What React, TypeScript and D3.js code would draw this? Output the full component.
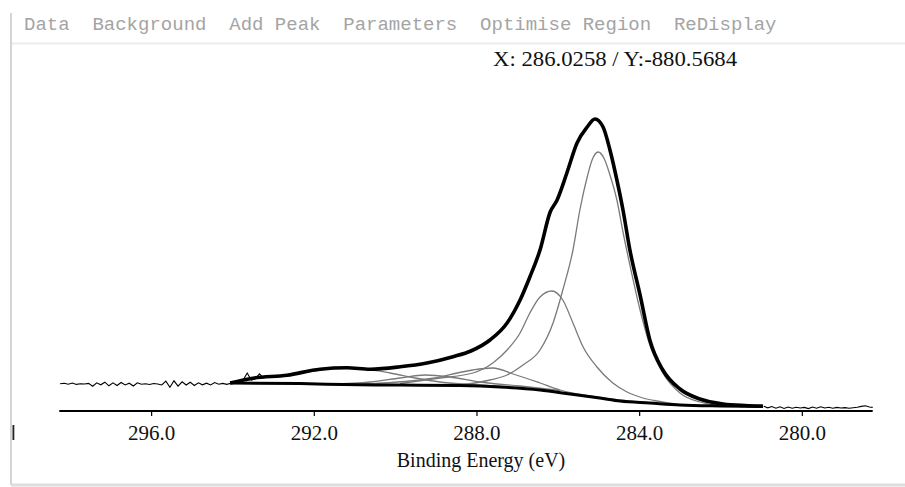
import { useMemo } from "react";
import * as d3 from "d3";

const W = 905;
const H = 487;

// binding energy window shown on the axis (eV, high -> low)
const beDomain: [number, number] = [298.27, 278.27];
const tickValues = [296, 292, 288, 284, 280];

const menuItems = ["Data", "Background", "Add Peak", "Parameters", "Optimise Region", "ReDisplay"];
const cursorReadout = "X: 286.0258 / Y:-880.5684";
const xTitle = "Binding Energy (eV)";

type Pt = [number, number]; // [binding energy, counts]

// raw spectrum, high-BE side (outside the fit region)
const rawHigh: Pt[] = [
  [298.25, 272], [298.15, 278], [298.05, 268], [297.95, 280], [297.85, 266],
  [297.75, 272], [297.65, 270], [297.55, 276], [297.45, 248], [297.35, 282],
  [297.25, 262], [297.15, 288], [297.05, 252], [296.95, 282], [296.85, 255],
  [296.75, 285], [296.65, 260], [296.55, 278], [296.45, 250], [296.35, 282],
  [296.25, 268], [296.15, 272], [296.05, 265], [295.95, 275], [295.85, 270],
  [295.75, 260], [295.65, 298], [295.55, 238], [295.45, 302], [295.35, 248],
  [295.25, 292], [295.15, 260], [295.05, 288], [294.95, 255], [294.85, 282],
  [294.75, 262], [294.65, 278], [294.55, 260], [294.45, 285], [294.35, 268],
  [294.25, 276], [294.15, 266], [294.05, 278], [293.95, 290], [293.85, 298],
  [293.75, 310], [293.65, 380], [293.55, 310], [293.45, 322], [293.35, 372],
  [293.25, 330], [293.15, 340],
];

// raw spectrum, low-BE side
const rawLow: Pt[] = [
  [280.95, 48], [280.85, 32], [280.75, 45], [280.65, 28], [280.55, 42],
  [280.45, 26], [280.35, 40], [280.25, 28], [280.15, 38], [280.05, 30],
  [279.95, 36], [279.85, 24], [279.75, 40], [279.65, 28], [279.55, 42],
  [279.45, 30], [279.35, 38], [279.25, 28], [279.15, 36], [279.05, 30],
  [278.95, 34], [278.85, 28], [278.75, 33], [278.65, 38], [278.55, 46],
  [278.45, 52], [278.35, 40], [278.27, 36],
];

// fitted envelope over the region
const envelope: Pt[] = [
  [294.07, 280], [293.51, 328], [292.67, 358], [291.86, 418], [291.2, 432],
  [290.63, 418], [289.89, 442], [289.23, 480], [288.59, 543], [288.15, 600],
  [287.68, 710], [287.26, 880], [286.94, 1110], [286.7, 1340], [286.45, 1610],
  [286.2, 1990], [286.03, 2110], [285.79, 2380], [285.54, 2680], [285.29, 2840],
  [285.1, 2920], [284.9, 2840], [284.73, 2610], [284.56, 2310], [284.41, 2010],
  [284.24, 1610], [283.99, 1160], [283.75, 710], [283.43, 410], [283.01, 220],
  [282.52, 120], [281.95, 70], [281.41, 55], [280.97, 50],
];

// Shirley background
const background: Pt[] = [
  [294.07, 280], [292.35, 274], [290.88, 262], [289.89, 259], [288.42, 254],
  [287.43, 240], [286.45, 210], [285.71, 170], [284.98, 130], [284.48, 100],
  [283.75, 80], [283.01, 60], [282.02, 50], [280.97, 45],
];

// component peaks, drawn on top of the background
const peakC1: Pt[] = [
  [288.66, 250], [287.68, 310], [287.26, 360], [286.87, 460], [286.45, 610],
  [286.13, 880], [285.89, 1210], [285.64, 1610], [285.47, 2010], [285.29, 2340],
  [285.17, 2510], [285.02, 2590], [284.88, 2530], [284.73, 2360], [284.56, 2110],
  [284.41, 1790], [284.24, 1460], [283.99, 1010], [283.75, 660], [283.43, 380],
  [283.01, 180], [282.52, 90], [282.02, 55],
];
const peakC2: Pt[] = [
  [289.89, 275], [288.91, 330], [288.1, 380], [287.61, 480], [287.26, 610],
  [286.94, 780], [286.7, 980], [286.45, 1140], [286.16, 1200], [285.89, 1110],
  [285.64, 880], [285.39, 640], [285.05, 440], [284.66, 280], [284.31, 190],
  [283.92, 130], [283.5, 95], [283.01, 62],
];
const peakC3: Pt[] = [
  [290.88, 268], [289.65, 300], [288.91, 340], [288.49, 380], [288.1, 410],
  [287.61, 430], [287.11, 370], [286.45, 280], [285.96, 210], [285.22, 150],
  [284.48, 108], [283.75, 80],
];
const peakC4: Pt[] = [
  [291.61, 268], [290.63, 290], [289.89, 330], [289.28, 360], [288.66, 340],
  [287.93, 290], [286.94, 250], [285.96, 205],
];
const peakC5: Pt[] = [
  [294.07, 280], [293.51, 326], [292.67, 356], [291.86, 410], [291.25, 428],
  [290.75, 418], [290.14, 380], [289.52, 330], [288.91, 290], [288.17, 265],
  [287.17, 240],
];

const peaks = [peakC1, peakC2, peakC3, peakC4, peakC5];

export default function App() {
  const x = useMemo(() => d3.scaleLinear().domain(beDomain).range([59.3, 872.7]), []);
  const y = useMemo(() => d3.scaleLinear().domain([0, 3000]).range([411, 111]), []);

  const smooth = d3
    .line<Pt>()
    .x((d) => x(d[0]))
    .y((d) => y(d[1]))
    .curve(d3.curveMonotoneX);
  const jagged = d3
    .line<Pt>()
    .x((d) => x(d[0]))
    .y((d) => y(d[1]));

  const serif = "'Liberation Serif', 'Times New Roman', serif";
  const axisY = y(0);

  return (
    <svg
      width={W}
      height={H}
      style={{ position: "absolute", left: 0, top: 0, background: "#fff" }}
    >
      {/* window frame */}
      <line x1={11} x2={11} y1={13} y2={485} stroke="#d4d4d4" strokeWidth={2} />
      <line x1={11} x2={W} y1={485} y2={485} stroke="#dedede" strokeWidth={3} />
      <line x1={12} x2={W} y1={43.5} y2={43.5} stroke="#ececec" strokeWidth={2} />
      {/* sliver of the clipped left tick label at the frame edge */}
      <rect x={12.5} y={425} width={1.8} height={15} fill="#222" />

      <text
        x={24}
        y={30}
        fontFamily="'Liberation Mono', monospace"
        fontSize={19}
        fill="#a4a4a4"
        style={{ whiteSpace: "pre" }}
      >
        {menuItems.join("  ")}
      </text>

      <text
        x={493}
        y={66}
        fontFamily={serif}
        fontSize={22}
        fill="#111"
        textLength={244}
        lengthAdjust="spacingAndGlyphs"
      >
        {cursorReadout}
      </text>

      {/* raw data outside the region */}
      <path d={jagged(rawHigh) ?? ""} fill="none" stroke="#000" strokeWidth={1.1} />
      <path d={jagged(rawLow) ?? ""} fill="none" stroke="#000" strokeWidth={1.1} />

      {/* components */}
      {peaks.map((p, i) => (
        <path key={i} d={smooth(p) ?? ""} fill="none" stroke="#7a7a7a" strokeWidth={1.3} />
      ))}

      {/* background and envelope */}
      <path d={smooth(background) ?? ""} fill="none" stroke="#000" strokeWidth={3} />
      <path
        d={smooth(envelope) ?? ""}
        fill="none"
        stroke="#000"
        strokeWidth={3.6}
        strokeLinejoin="round"
      />

      {/* axis */}
      <line x1={x(beDomain[0])} x2={x(beDomain[1])} y1={axisY} y2={axisY} stroke="#000" strokeWidth={2} />
      {tickValues.map((t) => (
        <g key={t} transform={`translate(${x(t)},${axisY})`}>
          <line y1={0} y2={5} stroke="#000" strokeWidth={1.2} />
          <text y={29} textAnchor="middle" fontFamily={serif} fontSize={21} fill="#111">
            {d3.format(".1f")(t)}
          </text>
        </g>
      ))}
      <text x={481} y={467} textAnchor="middle" fontFamily={serif} fontSize={20} fill="#111">
        {xTitle}
      </text>
    </svg>
  );
}
